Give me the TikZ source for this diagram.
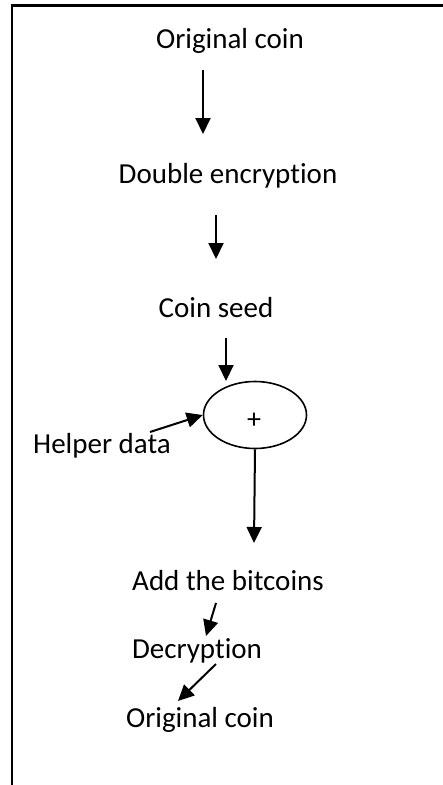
\documentclass[tikz,border=0pt]{standalone}
\usepackage{fontspec}
\setmainfont[Ligatures=NoCommon]{Carlito}
\usetikzlibrary{arrows.meta,shapes.geometric}
\begin{document}
\begin{tikzpicture}[x=1pt,y=-1pt,
  lbl/.style={font=\fontsize{29}{32}\selectfont, inner sep=0pt, anchor=base},
  arr/.style={line width=2pt, -{Triangle[length=16pt,width=15pt]}}]
\useasboundingbox (0,0) rectangle (443,785);
\fill[white] (0,0) rectangle (443,785);
% frame
\draw[line width=2.2pt] (12,785) -- (12,5.5) -- (443,5.5);
% labels
\node[lbl] (oc1) at (230,48) {Original coin};
\node[lbl] (de) at (228,183) {Double encryption};
\node[lbl] (cs) at (216,317) {Coin seed};
\node[draw, line width=1.6pt, ellipse, minimum width=103pt, minimum height=67pt, inner sep=0pt] (plus) at (255,415) {};
\node[font=\fontsize{28}{30}\selectfont, inner sep=0pt] (pl) at (254,421) {+};
\node[lbl] (hd) at (102,453) {Helper data};
\node[lbl] (ab) at (228,590) {Add the bitcoins};
\node[lbl] (dc) at (197,658) {Decryption};
\node[lbl] (oc2) at (200,727) {Original coin};
% connector endpoints
\coordinate (a1s) at (203,70);
\coordinate (a1e) at (203,134);
\coordinate (a2s) at (216,215);
\coordinate (a2e) at (216,259);
\coordinate (a3s) at (226,338);
\coordinate (a3e) at (226,381);
\coordinate (a4s) at (150,432);
\coordinate (a5e) at (254,543);
\coordinate (a6s) at (216,603);
\coordinate (a6e) at (206,636);
\coordinate (a7s) at (216,664);
\coordinate (a7e) at (178,701);
% connectors
\draw[arr] (a1s) -- (a1e);
\draw[arr] (a2s) -- (a2e);
\draw[arr] (a3s) -- (a3e);
\draw[arr] (a4s) -- (plus.west);
\draw[arr] (plus.south) -- (a5e);
\draw[arr] (a6s) -- (a6e);
\draw[arr] (a7s) -- (a7e);
\end{tikzpicture}
\end{document}
